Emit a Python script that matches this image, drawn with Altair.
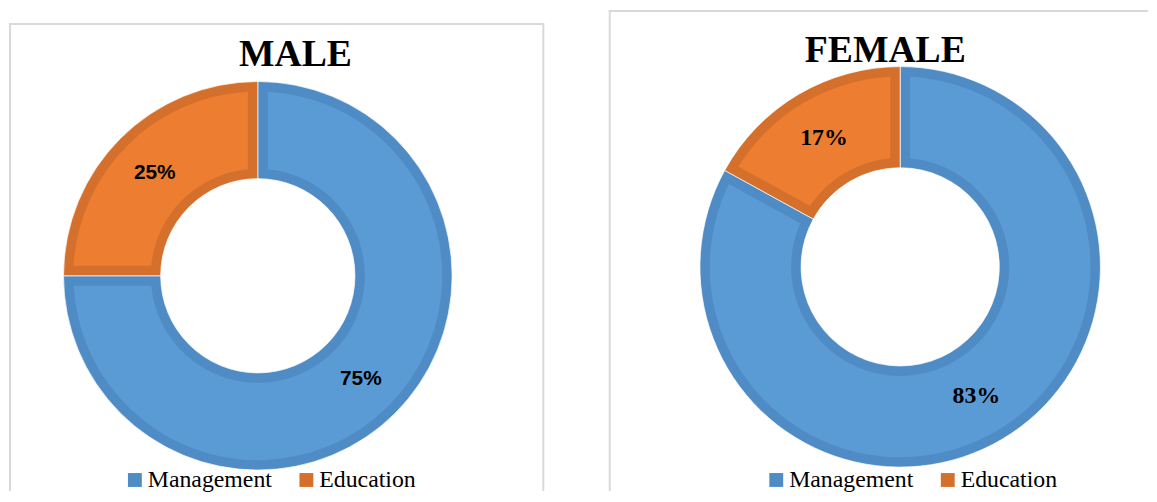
import json
import math
import altair as alt
import pandas as pd

categories = ["Management", "Education"]
male_values = [75, 25]
female_values = [83, 17]
panel_titles = ["MALE", "FEMALE"]

fill_colors = ["#5B9BD5", "#ED7D31"]
edge_colors = ["#4F8BC4", "#D5702C"]
border_color = "#D9D9D9"

PW_LEFT, PW_RIGHT, PH = 540, 544, 485


def panel(values, title, W, H, cx, cy, R, r, title_x, title_y,
          label_font, label_size, label_radius, legend_x, legend_y, top, right_edge):
    df = pd.DataFrame({"category": categories, "value": values})
    base = alt.Chart(df).transform_calculate(
        idx="indexof(%s, datum.category)" % json.dumps(categories),
        label="datum.value + '%'",
    )
    theta = alt.Theta("value:Q", stack=True)
    order = alt.Order("idx:Q")

    pad_r = ((r + 10) ** 2 + (R - 10) ** 2) ** 0.5
    pad_angle = 2 * math.asin(10 / pad_r)

    edge = base.mark_arc(outerRadius=R, innerRadius=r, stroke="white", strokeWidth=0.7).encode(
        theta=theta,
        order=order,
        color=alt.Color(
            "category:N",
            sort=categories,
            scale=alt.Scale(domain=categories, range=edge_colors),
            legend=alt.Legend(
                title=None, orient="none", legendX=legend_x, legendY=legend_y,
                direction="horizontal", symbolType="square", symbolSize=196,
                symbolStrokeWidth=0, labelFont="Liberation Serif", labelFontSize=24,
                labelColor="black", labelOffset=1, columnPadding=22, padding=0,
                labelLimit=300,
            ),
        ),
        x=alt.value(cx),
        y=alt.value(cy),
    )
    inner = base.mark_arc(outerRadius=R - 10, innerRadius=r + 10, padAngle=pad_angle).encode(
        theta=theta,
        order=order,
        fill=alt.Fill(
            "category:N",
            sort=categories,
            scale=alt.Scale(domain=categories, range=fill_colors),
            legend=None,
        ),
        x=alt.value(cx),
        y=alt.value(cy),
    )
    labels = base.mark_text(
        radius=label_radius, font=label_font, fontSize=label_size,
        fontWeight="bold", color="black",
    ).encode(
        theta=theta,
        order=order,
        detail="category:N",
        text="label:N",
        x=alt.value(cx),
        y=alt.value(cy),
    )
    ttl = alt.Chart(pd.DataFrame({"title": [title]})).mark_text(
        font="Liberation Serif", fontSize=38, fontWeight="bold", color="black",
        baseline="alphabetic", align="center",
    ).encode(text="title:N", x=alt.value(title_x), y=alt.value(title_y))

    one = alt.Chart(pd.DataFrame({"k": [0]}))
    rules = [
        one.mark_rule(color=border_color, strokeWidth=2).encode(
            x=alt.value(0), x2=alt.value(W), y=alt.value(top)),
        one.mark_rule(color=border_color, strokeWidth=2).encode(
            x=alt.value(1), y=alt.value(top), y2=alt.value(H)),
    ]
    if right_edge:
        rules.append(one.mark_rule(color=border_color, strokeWidth=2).encode(
            x=alt.value(W - 1), y=alt.value(top), y2=alt.value(H)))

    return alt.layer(*rules, edge, inner, labels, ttl).properties(width=W, height=H)


left = panel(male_values, panel_titles[0], PW_LEFT, PH, 251, 268, 196, 98, 289, 56,
             "Liberation Sans", 21, 147, 115, 462, 14, True)
right = panel(female_values, panel_titles[1], PW_RIGHT, PH, 294, 259, 202, 100, 279, 52,
              "Liberation Serif", 24, 151, 157, 462, 1, False)

chart = alt.hconcat(left, right, spacing=63).resolve_scale(
    color="independent", fill="independent", theta="independent"
).resolve_legend(color="independent").properties(padding=0).configure_view(stroke=None)

chart.save("out.html", embed_options={"renderer": "svg", "actions": False})
